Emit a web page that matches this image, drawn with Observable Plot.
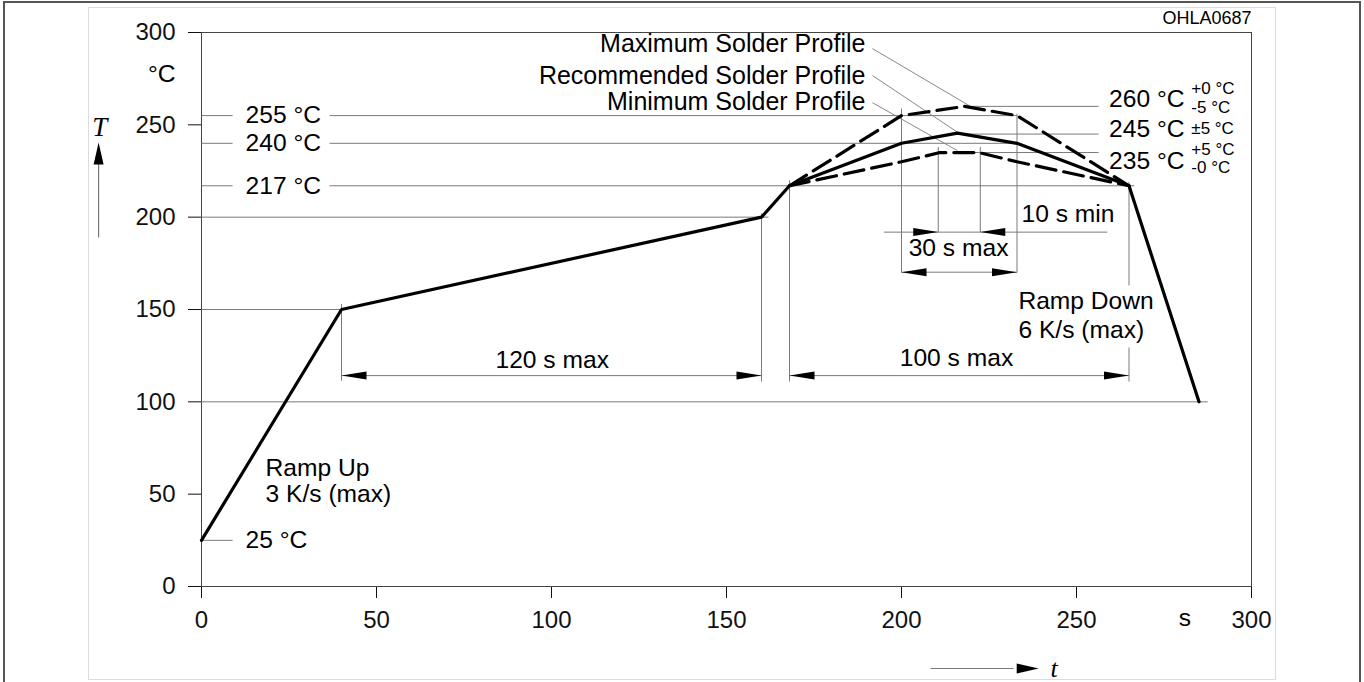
<!DOCTYPE html>
<html>
<head>
<meta charset="utf-8">
<script src="https://cdn.jsdelivr.net/npm/d3@7"></script>
<script src="https://cdn.jsdelivr.net/npm/@observablehq/plot@0.6"></script>
<style>
  html, body { margin: 0; padding: 0; background: #fff; }
  #wrap { position: relative; width: 1364px; height: 682px; overflow: hidden; }
  #chart { position: absolute; left: 0; top: 0; }
  .box { position: absolute; pointer-events: none; box-sizing: border-box; }
</style>
</head>
<body>
<div id="wrap">
  <div id="chart"></div>
  <div class="box" style="left:88px;top:7px;width:1188px;height:673px;border:1px solid #dcdcdc;"></div>
  <div class="box" style="left:3px;top:1px;width:1358px;height:700px;border:2px solid #555;"></div>
</div>
<script>
// ---- axis ticks ----
const ticksX = [0, 50, 100, 150, 200, 250, 300];
const ticksY = [0, 50, 100, 150, 200, 250, 300];

// ---- profiles (time s, temperature °C) ----
const recTime = [0, 40, 160, 168, 200, 216, 233, 265, 285];
const recTemp = [25, 150, 200, 217, 240, 245.5, 240, 217, 100];
const maxTime = [168, 200, 218, 233, 265];
const maxTemp = [217, 255, 260, 255, 217];
const minTime = [168, 200, 211, 222, 233, 265];
const minTemp = [217, 230, 235, 235, 230, 217];

// ---- horizontal reference lines ----
const hY  = [25, 100, 150, 200, 217, 217, 240, 240, 255, 255, 260, 245, 235];
const hX1 = [0, 0, 0, 0, 0, 36.6, 0, 36.6, 0, 36.6, 219.7, 216.3, 216.3];
const hX2 = [8.9, 287.5, 40, 162, 8.9, 266.5, 8.9, 233, 8.9, 233, 256.3, 256.3, 256.3];

// ---- vertical reference lines ----
const vX  = [40, 160, 168, 265, 265, 200, 210.5, 222.5, 233];
const vY1 = [111.5, 111, 111, 163, 111, 170, 192, 192, 170];
const vY2 = [153, 202, 220, 219, 129.4, 258.8, 238, 238, 256];

// ---- dimension lines ----
const dY  = [114.2, 114.2, 170.2, 191.9];
const dX1 = [40, 168, 200, 195];
const dX2 = [160, 265, 233, 258.8];

// ---- arrowheads (tip position, direction in degrees, 0 = up) ----
const arrX = [40, 160, 168, 265, 200, 233, 210.5, 222.5];
const arrY = [114.2, 114.2, 114.2, 114.2, 170.2, 170.2, 191.9, 191.9];
const arrDir = [-90, 90, -90, 90, -90, 90, 90, -90];

// ---- leader lines for profile names ----
const leadX1 = [191.7, 191.7, 191.7];
const leadY1 = [291.3, 276.7, 262];
const leadX2 = [219.7, 216.3, 216];
const leadY2 = [260, 245.6, 236];

// ---- labels ----
const profileNames = ["Maximum Solder Profile", "Recommended Solder Profile", "Minimum Solder Profile"];
const profileY = [293.7, 276.7, 262.6];
const leftTempLabels = ["255 °C", "240 °C", "217 °C", "25 °C"];
const leftTempY = [255, 240, 217, 25];
const rightTempLabels = ["260 °C", "245 °C", "235 °C"];
const rightTempY = [264, 247.6, 230.6];
const tolLabels = ["+0 °C", "-5 °C", "±5 °C", "+5 °C", "-0 °C"];
const tolY = [269.6, 259.3, 248, 236.5, 227];
const dimLabels = ["120 s max", "100 s max", "30 s max"];
const dimLabelX = [100.2, 215.7, 216.3];
const dimLabelY = [122.4, 123.4, 183];
const rampLabels = ["Ramp Up", "3 K/s (max)", "Ramp Down", "6 K/s (max)"];
const rampX = [18.3, 18.3, 233.4, 233.4];
const rampY = [63.9, 50.2, 154.3, 139];

const idx = (a) => a.map((_, i) => i);

const headShape = {
  draw(context, l, r) {
    context.moveTo(0, -l);
    context.lineTo(r, 0);
    context.lineTo(-r, 0);
    context.closePath();
  }
};

const thin = "#7a7a7a";
const fs = 24.6;

const chart = Plot.plot({
  width: 1364,
  height: 682,
  marginLeft: 201,
  marginRight: 113,
  marginTop: 32,
  marginBottom: 96,
  x: {domain: [0, 300], ticks: ticksX, tickSize: 12, tickPadding: 12, label: null},
  y: {domain: [0, 300], ticks: ticksY, tickSize: 13, tickPadding: 13, label: null},
  style: {fontFamily: "'Liberation Sans', Arial, sans-serif", fontSize: "24px", color: "#111", background: "transparent", overflow: "visible"},
  marks: [
    Plot.frame({stroke: "#444"}),
    // reference lines
    Plot.link(idx(hY), {x1: (i) => hX1[i], x2: (i) => hX2[i], y1: (i) => hY[i], y2: (i) => hY[i], stroke: thin, strokeWidth: 1}),
    Plot.link(idx(vX), {x1: (i) => vX[i], x2: (i) => vX[i], y1: (i) => vY1[i], y2: (i) => vY2[i], stroke: thin, strokeWidth: 1}),
    Plot.link(idx(dY), {x1: (i) => dX1[i], x2: (i) => dX2[i], y1: (i) => dY[i], y2: (i) => dY[i], stroke: thin, strokeWidth: 1}),
    Plot.link(idx(leadX1), {x1: (i) => leadX1[i], x2: (i) => leadX2[i], y1: (i) => leadY1[i], y2: (i) => leadY2[i], stroke: thin, strokeWidth: 0.9}),
    // arrowheads
    Plot.vector(idx(arrX), {x: (i) => arrX[i], y: (i) => arrY[i], rotate: (i) => arrDir[i], length: 25, r: 4, anchor: "end", shape: headShape, fill: "#000", stroke: "none"}),
    // axis arrows (T up, t right)
    Plot.link([0], {x1: -29.4, x2: -29.4, y1: 189, y2: 232, stroke: thin, strokeWidth: 1.2}),
    Plot.vector([0], {x: -29.4, y: 240.5, rotate: 0, length: 22, r: 5, anchor: "end", shape: headShape, fill: "#000", stroke: "none"}),
    Plot.link([0], {x1: 208.3, x2: 232, y1: -44.4, y2: -44.4, stroke: thin, strokeWidth: 1.2}),
    Plot.vector([0], {x: 239.2, y: -44.4, rotate: 90, length: 22, r: 5, anchor: "end", shape: headShape, fill: "#000", stroke: "none"}),
    // profiles
    Plot.line(idx(maxTime), {x: (i) => maxTime[i], y: (i) => maxTemp[i], stroke: "#000", strokeWidth: 3.2, strokeDasharray: "20,8"}),
    Plot.line(idx(minTime), {x: (i) => minTime[i], y: (i) => minTemp[i], stroke: "#000", strokeWidth: 3.2, strokeDasharray: "20,8"}),
    Plot.line(idx(recTime), {x: (i) => recTime[i], y: (i) => recTemp[i], stroke: "#000", strokeWidth: 3.2, strokeLinejoin: "miter"}),
    // text labels
    Plot.text(profileNames, {x: 189.7, y: (d, i) => profileY[i], text: (d) => d, textAnchor: "end", fill: "#000", fontSize: 25}),
    Plot.text(leftTempLabels, {x: 12.6, y: (d, i) => leftTempY[i], text: (d) => d, textAnchor: "start", fill: "#000", fontSize: fs}),
    Plot.text(rightTempLabels, {x: 259.3, y: (d, i) => rightTempY[i], text: (d) => d, textAnchor: "start", fill: "#000", fontSize: fs}),
    Plot.text(tolLabels, {x: 282.8, y: (d, i) => tolY[i], text: (d) => d, textAnchor: "start", fill: "#000", fontSize: 17}),
    Plot.text(dimLabels, {x: (d, i) => dimLabelX[i], y: (d, i) => dimLabelY[i], text: (d) => d, fill: "#000", fontSize: fs}),
    Plot.text(["10 s min"], {x: 234.3, y: 201.4, text: (d) => d, textAnchor: "start", fill: "#000", fontSize: fs}),
    Plot.text(rampLabels, {x: (d, i) => rampX[i], y: (d, i) => rampY[i], text: (d) => d, textAnchor: "start", fill: "#000", fontSize: fs}),
    Plot.text(["°C"], {x: -7.4, y: 277.5, text: (d) => d, textAnchor: "end", fill: "#000", fontSize: fs}),
    Plot.text(["s"], {x: 281, y: -17.3, text: (d) => d, fill: "#000", fontSize: fs}),
    Plot.text(["OHLA0687"], {x: 300, y: 307.5, text: (d) => d, textAnchor: "end", fill: "#000", fontSize: 18}),
    Plot.text(["T"], {x: -29.1, y: 248.7, text: (d) => d, fill: "#000", fontSize: 27, fontStyle: "italic", fontFamily: "'Liberation Serif', 'Times New Roman', serif"}),
    Plot.text(["t"], {x: 243.6, y: -44.4, text: (d) => d, fill: "#000", fontSize: 26, fontStyle: "italic", fontFamily: "'Liberation Serif', 'Times New Roman', serif"})
  ]
});
document.getElementById("chart").appendChild(chart);
</script>
</body>
</html>
